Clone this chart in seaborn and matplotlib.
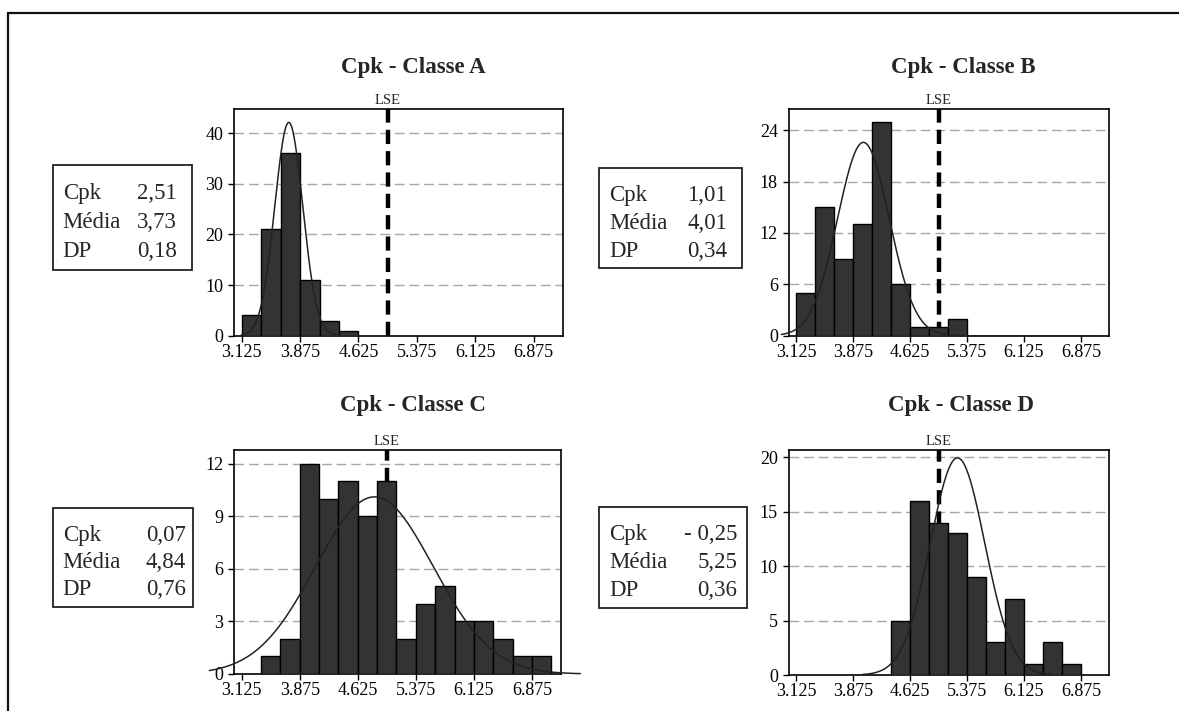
import numpy as np
import pandas as pd
import matplotlib
matplotlib.use("Agg")
import matplotlib.pyplot as plt
from matplotlib.patches import Rectangle
import seaborn as sns

# ---------------- data ----------------
classes = ["A", "B", "C", "D"]
titles = ["Cpk - Classe A", "Cpk - Classe B", "Cpk - Classe C", "Cpk - Classe D"]
bin_width = 0.25
bin_starts = [3.125, 3.125, 3.375, 4.375]
counts_A = [4, 21, 36, 11, 3, 1]
counts_B = [5, 15, 9, 13, 25, 6, 1, 1, 2, 0, 0, 0, 0, 0, 0, 0]
counts_C = [1, 2, 12, 10, 11, 9, 11, 2, 4, 5, 3, 3, 2, 1, 1]
counts_D = [5, 16, 14, 13, 9, 3, 7, 1, 3, 1]
all_counts = [counts_A, counts_B, counts_C, counts_D]

cpk_labels = ["2,51", "1,01", "0,07", "- 0,25"]
media = [3.73, 4.01, 4.84, 5.25]
dp = [0.18, 0.34, 0.76, 0.36]
curve_lo = [3.12, 2.93, 2.71, 4.00]
curve_hi = [4.40, 5.40, 7.50, 6.50]
lse = 5.0

x_ticks = [3.125, 3.875, 4.625, 5.375, 6.125, 6.875]
x_tick_labels = ["3.125", "3.875", "4.625", "5.375", "6.125", "6.875"]
y_ticks = [[0, 10, 20, 30, 40], [0, 6, 12, 18, 24], [0, 3, 6, 9, 12], [0, 5, 10, 15, 20]]
y_tops = [44.7, 26.45, 12.78, 20.67]

# ---------------- style ----------------
sns.set_theme(style="white")
plt.rcParams["font.family"] = ["Liberation Serif", "DejaVu Serif"]

W, H = 1179, 711
fig = plt.figure(figsize=(W / 100, H / 100), dpi=100)
fig.patch.set_facecolor("white")


def fr(x0, y0, x1, y1):
    return [x0 / W, 1 - y1 / H, (x1 - x0) / W, (y1 - y0) / H]


# outer border
fig.patches.append(Rectangle((8 / W, -0.05), 1.2, 1 - 13 / H + 0.05, transform=fig.transFigure,
                             fill=False, edgecolor="#111111", linewidth=1.6, zorder=0))

axes_px = [(234.3, 109.3, 562.7, 335.7), (789, 109.3, 1109.3, 335.7),
           (234.3, 450, 561, 674), (789, 450, 1109.3, 675)]
title_px = [(413, 67), (963, 67), (413, 405), (961, 405)]
box_px = [(52.7, 165, 191.7, 270), (599.3, 168.3, 741.7, 268.3),
          (52.7, 508.3, 192.7, 606.7), (599.3, 507.3, 746.7, 608.3)]
value_right = [177, 727, 186, 737]

for i, cls in enumerate(classes):
    ax = fig.add_axes(fr(*axes_px[i]))
    counts = all_counts[i]
    edges = [float(bin_starts[i] + bin_width * k) for k in range(len(counts) + 1)]
    centers = [(edges[k] + edges[k + 1]) / 2 for k in range(len(counts))]
    df = pd.DataFrame({"x": centers, "n": [float(c) for c in counts]})
    sns.histplot(data=df, x="x", weights="n", bins=edges, ax=ax,
                 color="#333333", edgecolor="black", linewidth=1.0, alpha=1, zorder=3)

    # fitted normal curve
    n = sum(counts)
    xs = np.linspace(curve_lo[i], curve_hi[i], 300)
    ys = n * bin_width * np.exp(-0.5 * ((xs - media[i]) / dp[i]) ** 2) / (dp[i] * np.sqrt(2 * np.pi))
    sns.lineplot(x=xs, y=ys, ax=ax, color="#222222", linewidth=1.1, zorder=4, clip_on=False)

    # LSE line
    ax.axvline(lse, color="black", linewidth=3.2, linestyle=(0, (3.2, 1.6)), zorder=2)
    ax.text(lse, 1.01, "LSE", transform=ax.get_xaxis_transform(), ha="center", va="bottom",
            fontsize=10.5)

    ax.set_xlim(3.03, 7.25)
    ax.set_ylim(0, y_tops[i])
    ax.set_xticks(x_ticks)
    ax.set_xticklabels(x_tick_labels)
    ax.set_yticks(y_ticks[i])
    for yt in y_ticks[i][1:]:
        ax.axhline(yt, color="#a6a6a6", linewidth=1.0, linestyle=(0, (7, 3.5)), zorder=1)
    ax.tick_params(axis="both", direction="out", length=4, width=1, labelsize=13,
                   colors="black", left=True, bottom=True)
    ax.tick_params(axis="x", pad=2)
    ax.tick_params(axis="y", pad=4)
    ax.set_xlabel("")
    ax.set_ylabel("")
    for s in ax.spines.values():
        s.set_color("black")
        s.set_linewidth(1.2)
    ax.grid(False)

    tx, ty = title_px[i]
    fig.text(tx / W, 1 - ty / H, titles[i], ha="center", va="center", fontsize=16.5,
             fontweight="bold")

    # stats box
    bx0, by0, bx1, by1 = box_px[i]
    fig.patches.append(Rectangle((bx0 / W, 1 - by1 / H), (bx1 - bx0) / W, (by1 - by0) / H,
                                 transform=fig.transFigure, fill=False, edgecolor="#222222",
                                 linewidth=1.3))
    labels = ["Cpk", "Média", "DP"]
    values = [cpk_labels[i], f"{media[i]:.2f}".replace(".", ","), f"{dp[i]:.2f}".replace(".", ",")]
    row_h = (by1 - by0) / 3.6
    for r in range(3):
        yy = by0 + row_h * (0.8 + r) + 5
        fig.text((bx0 + 10) / W, 1 - yy / H, labels[r], ha="left", va="center", fontsize=16.5)
        fig.text(value_right[i] / W, 1 - yy / H, values[r], ha="right", va="center", fontsize=16.5)

fig.savefig("out.png", dpi=100, facecolor="white")
